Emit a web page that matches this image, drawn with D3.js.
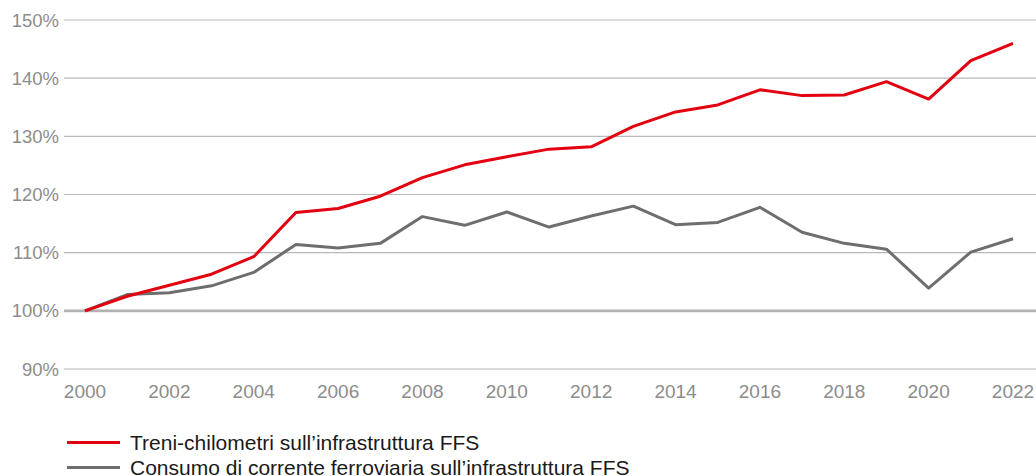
<!DOCTYPE html>
<html>
<head>
<meta charset="utf-8">
<script src="https://cdn.jsdelivr.net/npm/d3@7"></script>
<style>
  body { margin: 0; background: #fff; }
  svg { display: block; font-family: "Liberation Sans", Arial, sans-serif; }
</style>
</head>
<body>
<svg id="chart"></svg>
<script>
const years = d3.range(2000, 2023);
const trainKm = [100, 102.5, 104.4, 106.3, 109.3, 116.9, 117.6, 119.7, 122.9, 125.1, 126.5, 127.8, 128.2,
                 131.7, 134.2, 135.4, 138.0, 137.0, 137.1, 139.4, 136.4, 143.0, 146.0];
const power = [100, 102.8, 103.1, 104.3, 106.6, 111.4, 110.8, 111.6, 116.2, 114.7, 117.0, 114.4, 116.3,
               118.0, 114.8, 115.2, 117.8, 113.5, 111.6, 110.6, 103.9, 110.1, 112.4];
const yTicks = [90, 100, 110, 120, 130, 140, 150];
const xTicks = d3.range(2000, 2023, 2);
const seriesNames = ["Treni-chilometri sull’infrastruttura FFS", "Consumo di corrente ferroviaria sull’infrastruttura FFS"];
const seriesColors = ["#e3000f", "#6e6e6e"];

const width = 1036, height = 476;
const svg = d3.select("#chart").attr("width", width).attr("height", height);

const x = d3.scaleLinear().domain([2000, 2022]).range([85, 1013]);
const y = d3.scaleLinear().domain([90, 150]).range([369, 20]);

// grid lines, the 100% base line drawn heavier
svg.append("g")
    .selectAll("line")
    .data(yTicks)
    .join("line")
    .attr("x1", 64)
    .attr("x2", width)
    .attr("y1", d => y(d))
    .attr("y2", d => y(d))
    .attr("stroke", d => d === 100 ? "#b2b2b2" : "#b8b8b8")
    .attr("stroke-width", d => d === 100 ? 2.6 : 1.2);

// y labels
svg.append("g")
    .selectAll("text")
    .data(yTicks)
    .join("text")
    .attr("x", 59)
    .attr("y", d => y(d))
    .attr("dy", "0.36em")
    .attr("text-anchor", "end")
    .attr("fill", "#8c8c8c")
    .style("font-size", "18.5px")
    .text(d => d + "%");

// x labels
svg.append("g")
    .selectAll("text")
    .data(xTicks)
    .join("text")
    .attr("x", d => x(d))
    .attr("y", 398)
    .attr("text-anchor", "middle")
    .attr("fill", "#8c8c8c")
    .style("font-size", "19px")
    .text(d => d);

const line = d3.line()
    .x((d, i) => x(years[i]))
    .y(d => y(d));

svg.append("path")
    .datum(power)
    .attr("fill", "none")
    .attr("stroke", seriesColors[1])
    .attr("stroke-width", 3)
    .attr("stroke-linejoin", "round")
    .attr("d", line);

svg.append("path")
    .datum(trainKm)
    .attr("fill", "none")
    .attr("stroke", seriesColors[0])
    .attr("stroke-width", 3)
    .attr("stroke-linejoin", "round")
    .attr("d", line);

// legend
const legend = svg.append("g")
    .selectAll("g")
    .data(seriesNames)
    .join("g")
    .attr("transform", (d, i) => `translate(67,${442.5 + i * 25})`);

legend.append("line")
    .attr("x1", 0)
    .attr("x2", 53)
    .attr("stroke", (d, i) => seriesColors[i])
    .attr("stroke-width", 3);

legend.append("text")
    .attr("x", 63)
    .attr("dy", "0.36em")
    .attr("fill", "#1a1a1a")
    .style("font-size", "21px")
    .text(d => d);
</script>
</body>
</html>
